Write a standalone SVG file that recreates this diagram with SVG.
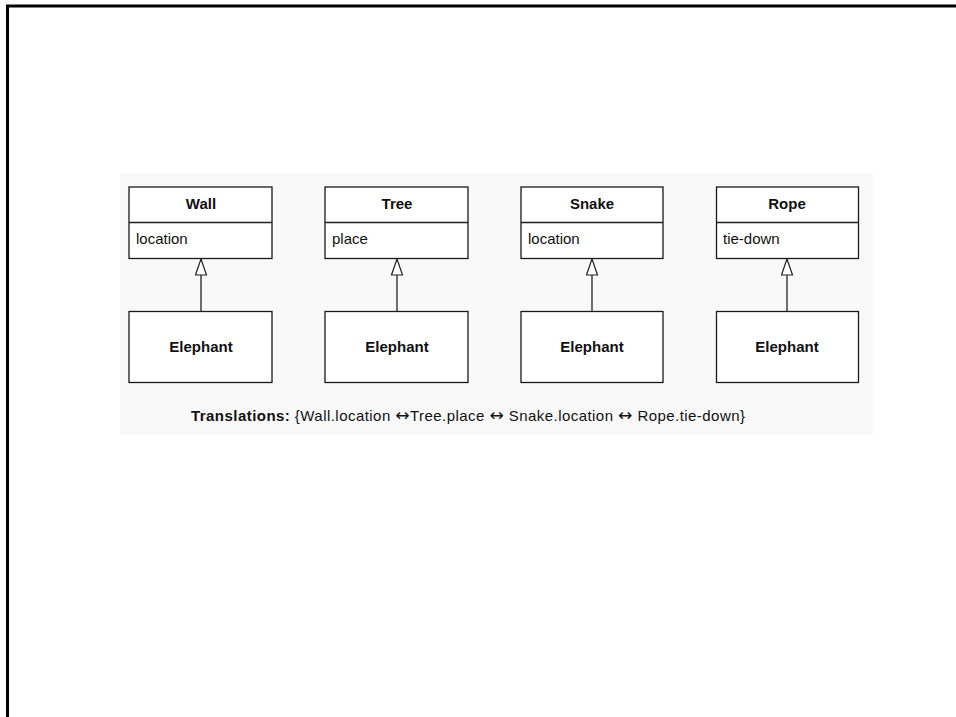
<svg xmlns="http://www.w3.org/2000/svg" width="956" height="717" viewBox="0 0 956 717">
<style>
.box{fill:#fff;stroke:#1a1a1a;stroke-width:1.3}
.t{font-family:"Liberation Sans",Arial,sans-serif;font-size:15px;fill:#111}
.b{font-weight:bold}
.c{text-anchor:middle}
.ar{font-family:"DejaVu Sans",sans-serif;font-size:17px}
.edge{stroke:#222;stroke-width:1.3;fill:none}
</style>
<defs>
<marker id="gen" markerWidth="19" markerHeight="13" refX="18" refY="6.5" orient="auto" markerUnits="userSpaceOnUse" viewBox="0 0 19 13">
<path d="M18,6.5 L2,1 L2,12 Z" fill="#fff" stroke="#222" stroke-width="1.2"/>
</marker>
</defs>
<rect width="956" height="717" fill="#fff"/>
<path d="M7.5,717 V6 H956" fill="none" stroke="#000" stroke-width="3"/>
<rect x="120" y="173" width="753" height="262" fill="#f9f9f9"/>
<g id="connectors">
<line class="edge" x1="201" y1="311" x2="201" y2="259" marker-end="url(#gen)"/>
<line class="edge" x1="397" y1="311" x2="397" y2="259" marker-end="url(#gen)"/>
<line class="edge" x1="592" y1="311" x2="592" y2="259" marker-end="url(#gen)"/>
<line class="edge" x1="787" y1="311" x2="787" y2="259" marker-end="url(#gen)"/>
</g>
<g id="wall">
<rect class="box" x="129" y="187" width="143" height="71.5"/>
<line class="edge" x1="129" y1="222.5" x2="272" y2="222.5"/>
<text class="t b c" x="201" y="209">Wall</text>
<text class="t" x="136" y="243.5">location</text>
</g>
<g id="tree">
<rect class="box" x="325" y="187" width="143" height="71.5"/>
<line class="edge" x1="325" y1="222.5" x2="468" y2="222.5"/>
<text class="t b c" x="397" y="209">Tree</text>
<text class="t" x="332" y="243.5">place</text>
</g>
<g id="snake">
<rect class="box" x="521" y="187" width="142" height="71.5"/>
<line class="edge" x1="521" y1="222.5" x2="663" y2="222.5"/>
<text class="t b c" x="592" y="209">Snake</text>
<text class="t" x="528" y="243.5">location</text>
</g>
<g id="rope">
<rect class="box" x="716.5" y="187" width="142" height="71.5"/>
<line class="edge" x1="716.5" y1="222.5" x2="858.5" y2="222.5"/>
<text class="t b c" x="787" y="209">Rope</text>
<text class="t" x="723" y="243.5">tie-down</text>
</g>
<g id="elephant1">
<rect class="box" x="129" y="311.5" width="143" height="71"/>
<text class="t b c" x="201" y="352">Elephant</text>
</g>
<g id="elephant2">
<rect class="box" x="325" y="311.5" width="143" height="71"/>
<text class="t b c" x="397" y="352">Elephant</text>
</g>
<g id="elephant3">
<rect class="box" x="521" y="311.5" width="142" height="71"/>
<text class="t b c" x="592" y="352">Elephant</text>
</g>
<g id="elephant4">
<rect class="box" x="716.5" y="311.5" width="142" height="71"/>
<text class="t b c" x="787" y="352">Elephant</text>
</g>
<text class="t" x="191" y="420.5" textLength="554" lengthAdjust="spacing"><tspan class="b">Translations:</tspan> {Wall.location  <tspan class="ar">↔</tspan>Tree.place <tspan class="ar">↔</tspan> Snake.location <tspan class="ar">↔</tspan> Rope.tie-down}</text>
</svg>
